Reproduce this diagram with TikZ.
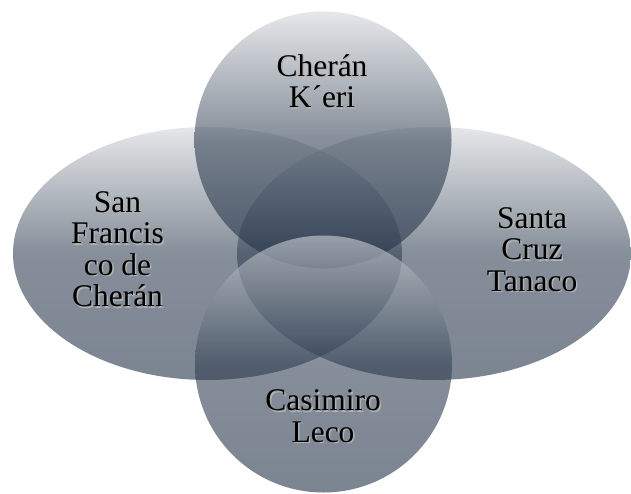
\documentclass[tikz,border=0pt]{standalone}
\usepackage{fontspec}
\setmainfont{Liberation Serif}
\newfontfamily\townfont{Liberation Serif}
\usetikzlibrary{shapes.geometric}

\definecolor{venntop}{RGB}{212,215,220}
\definecolor{vennmid}{RGB}{52,67,85}
\definecolor{vennbot}{RGB}{35,50,72}
\newcommand{\shtxt}[1]{\makebox[0pt][l]{\kern1.5pt\raisebox{-1.5pt}{\color{black!30}#1}}#1}

\begin{document}
\begin{tikzpicture}[x=1pt, y=-1pt]
				\tikzstyle{lobe} = [ellipse, inner sep=0pt, fill opacity=0.6, top color=venntop, bottom color=vennbot, middle color=vennmid]
				\tikzstyle{town} = [align=center, text=black, font=\townfont\fontsize{31.5}{31.5}\selectfont]
				
				\useasboundingbox (0, 0) rectangle (631, 494);
				
				\node[lobe, minimum width=389pt, minimum height=253pt] 	at (207.5, 253.5) 	(sf) 	{};
				\node[lobe, minimum width=394pt, minimum height=253pt] 	at (434, 253.5) 	(sc) 	{};
				\node[lobe, minimum width=257pt, minimum height=257pt] 	at (323, 140) 		(ck) 	{};
				\node[lobe, minimum width=257pt, minimum height=257pt] 	at (323.5, 364) 	(cl) 	{};
				
				\node[town] 	at (322, 82) 		(ckt) 	{\shtxt{Cherán}\\\shtxt{K´eri}};
				\node[town] 	at (117.5, 250) 	(sft) 	{\shtxt{San}\\\shtxt{Francis}\\\shtxt{co de}\\\shtxt{Cherán}};
				\node[town] 	at (532, 250) 		(sct) 	{\shtxt{Santa}\\\shtxt{Cruz}\\\shtxt{Tanaco}};
				\node[town] 	at (323, 417) 		(clt) 	{\shtxt{Casimiro}\\\shtxt{Leco}};
\end{tikzpicture}
\end{document}
